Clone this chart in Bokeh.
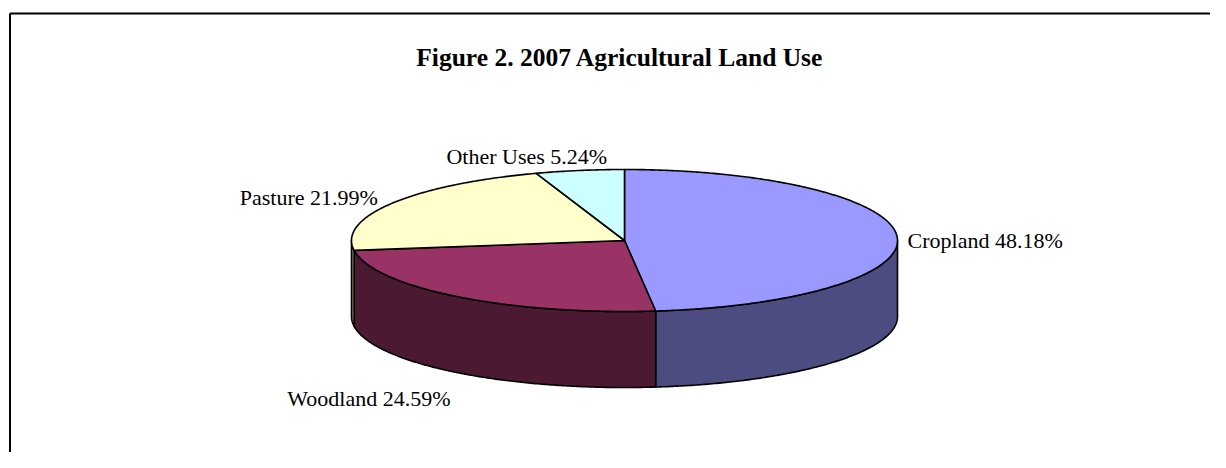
import numpy as np
from bokeh.plotting import figure
from bokeh.models import Range1d, ColumnDataSource
from bokeh.core.properties import value
from bokeh.embed import file_html
from bokeh.resources import INLINE

# ---------------- data ----------------
title_text = "Figure 2. 2007 Agricultural Land Use"
categories = ["Cropland", "Woodland", "Pasture", "Other Uses"]
shares = [48.18, 24.59, 21.99, 5.24]
top_colors = ["#9999FF", "#993366", "#FFFFCC", "#CCFFFF"]
side_colors = ["#4C4C80", "#4C1933", "#80806A", "#6A8080"]

# ---------------- layout (screen pixels) ----------------
W, H = 1210, 452
CX, CY, RA, RB, DEPTH = 624, 240, 273, 71, 76
# label offsets from the slice mid-point on the rim: dx, dy, align
label_offsets = [(10.5, 4, "left"), (-7, 26, "right"), (-14, -6, "right"), (-53, -14, "center")]
FONT = "Liberation Serif"

p = figure(width=W, height=H, x_range=Range1d(0, W), y_range=Range1d(H, 0),
           x_axis_location=None, y_axis_location=None, toolbar_location=None,
           output_backend="svg", min_border=0, background_fill_color="white",
           border_fill_color="white")
p.xgrid.visible = False
p.ygrid.visible = False
p.outline_line_color = None

# frame border
p.line([9.5, 1240], [13, 13], line_color="black", line_width=2)
p.line([9.5, 9.5], [13, 480], line_color="black", line_width=2)


def rim(theta_deg, drop=0.0):
    t = np.radians(theta_deg)
    return CX + RA * np.sin(t), CY - RB * np.cos(t) + drop


total = float(sum(shares))
starts, ends = [], []
acc = 0.0
for s in shares:
    starts.append(360.0 * acc / total)
    acc += s
    ends.append(360.0 * acc / total)

# side walls (front half only: 90..270 deg)
side_xs, side_ys, side_fill = [], [], []
for t1, t2, col in zip(starts, ends, side_colors):
    a1, a2 = max(t1, 90.0), min(t2, 270.0)
    if a2 <= a1:
        continue
    th = np.linspace(a1, a2, max(4, int((a2 - a1) * 2)))
    xt, yt = rim(th)
    xb, yb = rim(th[::-1], DEPTH)
    side_xs.append(list(np.concatenate([xt, xb])))
    side_ys.append(list(np.concatenate([yt, yb])))
    side_fill.append(col)
p.patches("xs", "ys", source=ColumnDataSource(dict(xs=side_xs, ys=side_ys, c=side_fill)),
          fill_color="c", line_color="black", line_width=1.6, line_join="round")

# top faces
top_xs, top_ys = [], []
for t1, t2 in zip(starts, ends):
    th = np.linspace(t1, t2, max(4, int((t2 - t1) * 2)))
    xt, yt = rim(th)
    top_xs.append([CX] + list(xt))
    top_ys.append([CY] + list(yt))
p.patches("xs", "ys", source=ColumnDataSource(dict(xs=top_xs, ys=top_ys, c=top_colors)),
          fill_color="c", line_color="black", line_width=1.6, line_join="round")

# labels
for cat, s, t1, t2, (dx, dy, al) in zip(categories, shares, starts, ends, label_offsets):
    mid = (t1 + t2) / 2
    mx, my = rim(mid)
    if 90 < mid < 270:
        my = my + DEPTH
    p.text(x=[float(mx + dx)], y=[float(my + dy)], text=[f"{cat} {s:.2f}%"],
           text_font=value(FONT), text_font_size="22px", text_color="black",
           text_align=al, text_baseline="alphabetic")

p.text(x=[619.5], y=[57], text=[title_text], text_font=value(FONT),
       text_font_size="25.5px", text_font_style="bold", text_color="black",
       text_align="center", text_baseline="alphabetic")

open("out.html", "w").write(file_html(p, INLINE))
